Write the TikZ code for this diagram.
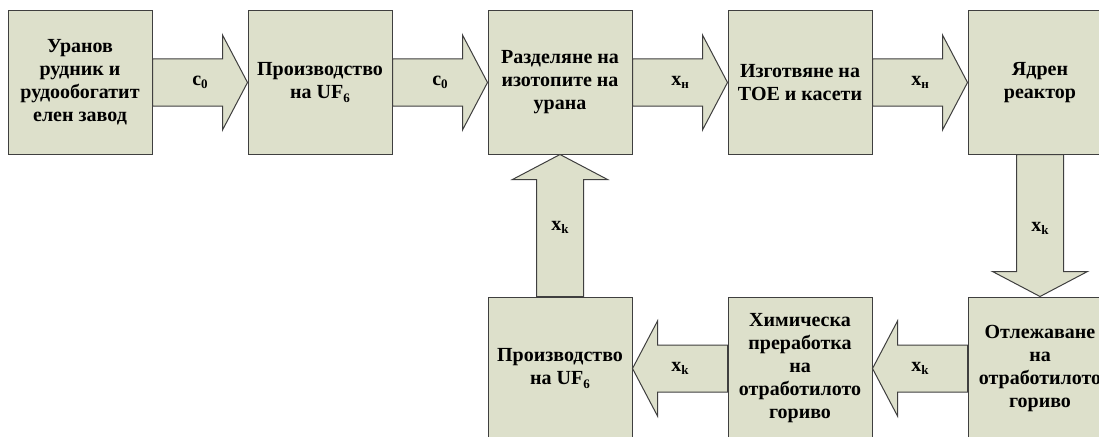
\documentclass[tikz,border=0pt]{standalone}
\usepackage{fontspec}
\setmainfont{Liberation Serif}
\usetikzlibrary{calc}
\definecolor{boxfill}{HTML}{DDE0CB}
\definecolor{edgecol}{HTML}{3F3F3F}
\newcommand\lowidx[1]{\raisebox{-0.35ex}{\fontsize{13}{13}\selectfont #1}}
\begin{document}
\begin{tikzpicture}[x=1pt,y=-1pt,
  box/.style={draw=edgecol, line width=1pt, fill=boxfill, minimum width=144pt,
    minimum height=143pt, inner sep=0pt, align=center,
    font=\fontsize{20}{23}\selectfont\bfseries},
  blk/.style={draw=edgecol, line width=1pt, fill=boxfill, line join=miter,
    to path={
      ($(\tikztostart)!23.5pt!90:(\tikztotarget)$) --
      ($(\tikztotarget)!25pt!(\tikztostart)!23.5pt!90:(\tikztotarget)$) --
      ($(\tikztotarget)!25pt!(\tikztostart)!47.5pt!90:(\tikztotarget)$) --
      (\tikztotarget) --
      ($(\tikztotarget)!25pt!(\tikztostart)!47.5pt!-90:(\tikztotarget)$) --
      ($(\tikztotarget)!25pt!(\tikztostart)!23.5pt!-90:(\tikztotarget)$) --
      ($(\tikztostart)!23.5pt!-90:(\tikztotarget)$) -- cycle}},
  lbl/.style={font=\fontsize{20}{23}\selectfont\bfseries, inner sep=0pt}]
\useasboundingbox (0,0) rectangle (1099,436);
\fill[white] (0,0) rectangle (1099,436);
\clip (0,0) rectangle (1099,436);
% top row
\node[box] (b1) at (80,82.5) {Уранов\\рудник и\\рудообогатит\\елен завод};
\node[box] (b2) at (320,82.5) {Производство\\на UF\lowidx{6}};
\node[box] (b3) at (560,82.5) {Разделяне на\\изотопите на\\урана};
\node[box] (b4) at (800,82.5) {Изготвяне на\\ТОЕ и касети};
\node[box] (b5) at (1040,82.5) {Ядрен\\реактор};
% bottom row
\node[box] (b6) at (560,368.5) {Производство\\на UF\lowidx{6}};
\node[box] (b7) at (800,368.5) {Химическа\\преработка\\на\\отработилото\\гориво};
\node[box] (b8) at (1040,368.5) {Отлежаване\\на\\отработилото\\гориво};
% block arrows
\draw[blk] (b1.east) to (b2.west);
\draw[blk] (b2.east) to (b3.west);
\draw[blk] (b3.east) to (b4.west);
\draw[blk] (b4.east) to (b5.west);
\draw[blk] (b5.south) to (b8.north);
\draw[blk] (b8.west) to (b7.east);
\draw[blk] (b7.west) to (b6.east);
\draw[blk] (b6.north) to (b3.south);
% labels
\node[lbl] (l1) at ($(b1.east)!0.5!(b2.west)$) {c\lowidx{0}};
\node[lbl] (l2) at ($(b2.east)!0.5!(b3.west)$) {c\lowidx{0}};
\node[lbl] (l3) at ($(b3.east)!0.5!(b4.west)$) {x\lowidx{н}};
\node[lbl] (l4) at ($(b4.east)!0.5!(b5.west)$) {x\lowidx{н}};
\node[lbl] (l5) at ($(b5.south)!0.5!(b8.north)+(0,3)$) {x\lowidx{k}};
\node[lbl] (l6) at ($(b8.west)!0.5!(b7.east)$) {x\lowidx{k}};
\node[lbl] (l7) at ($(b7.west)!0.5!(b6.east)$) {x\lowidx{k}};
\node[lbl] (l8) at ($(b6.north)!0.5!(b3.south)+(0,2)$) {x\lowidx{k}};
\end{tikzpicture}
\end{document}
